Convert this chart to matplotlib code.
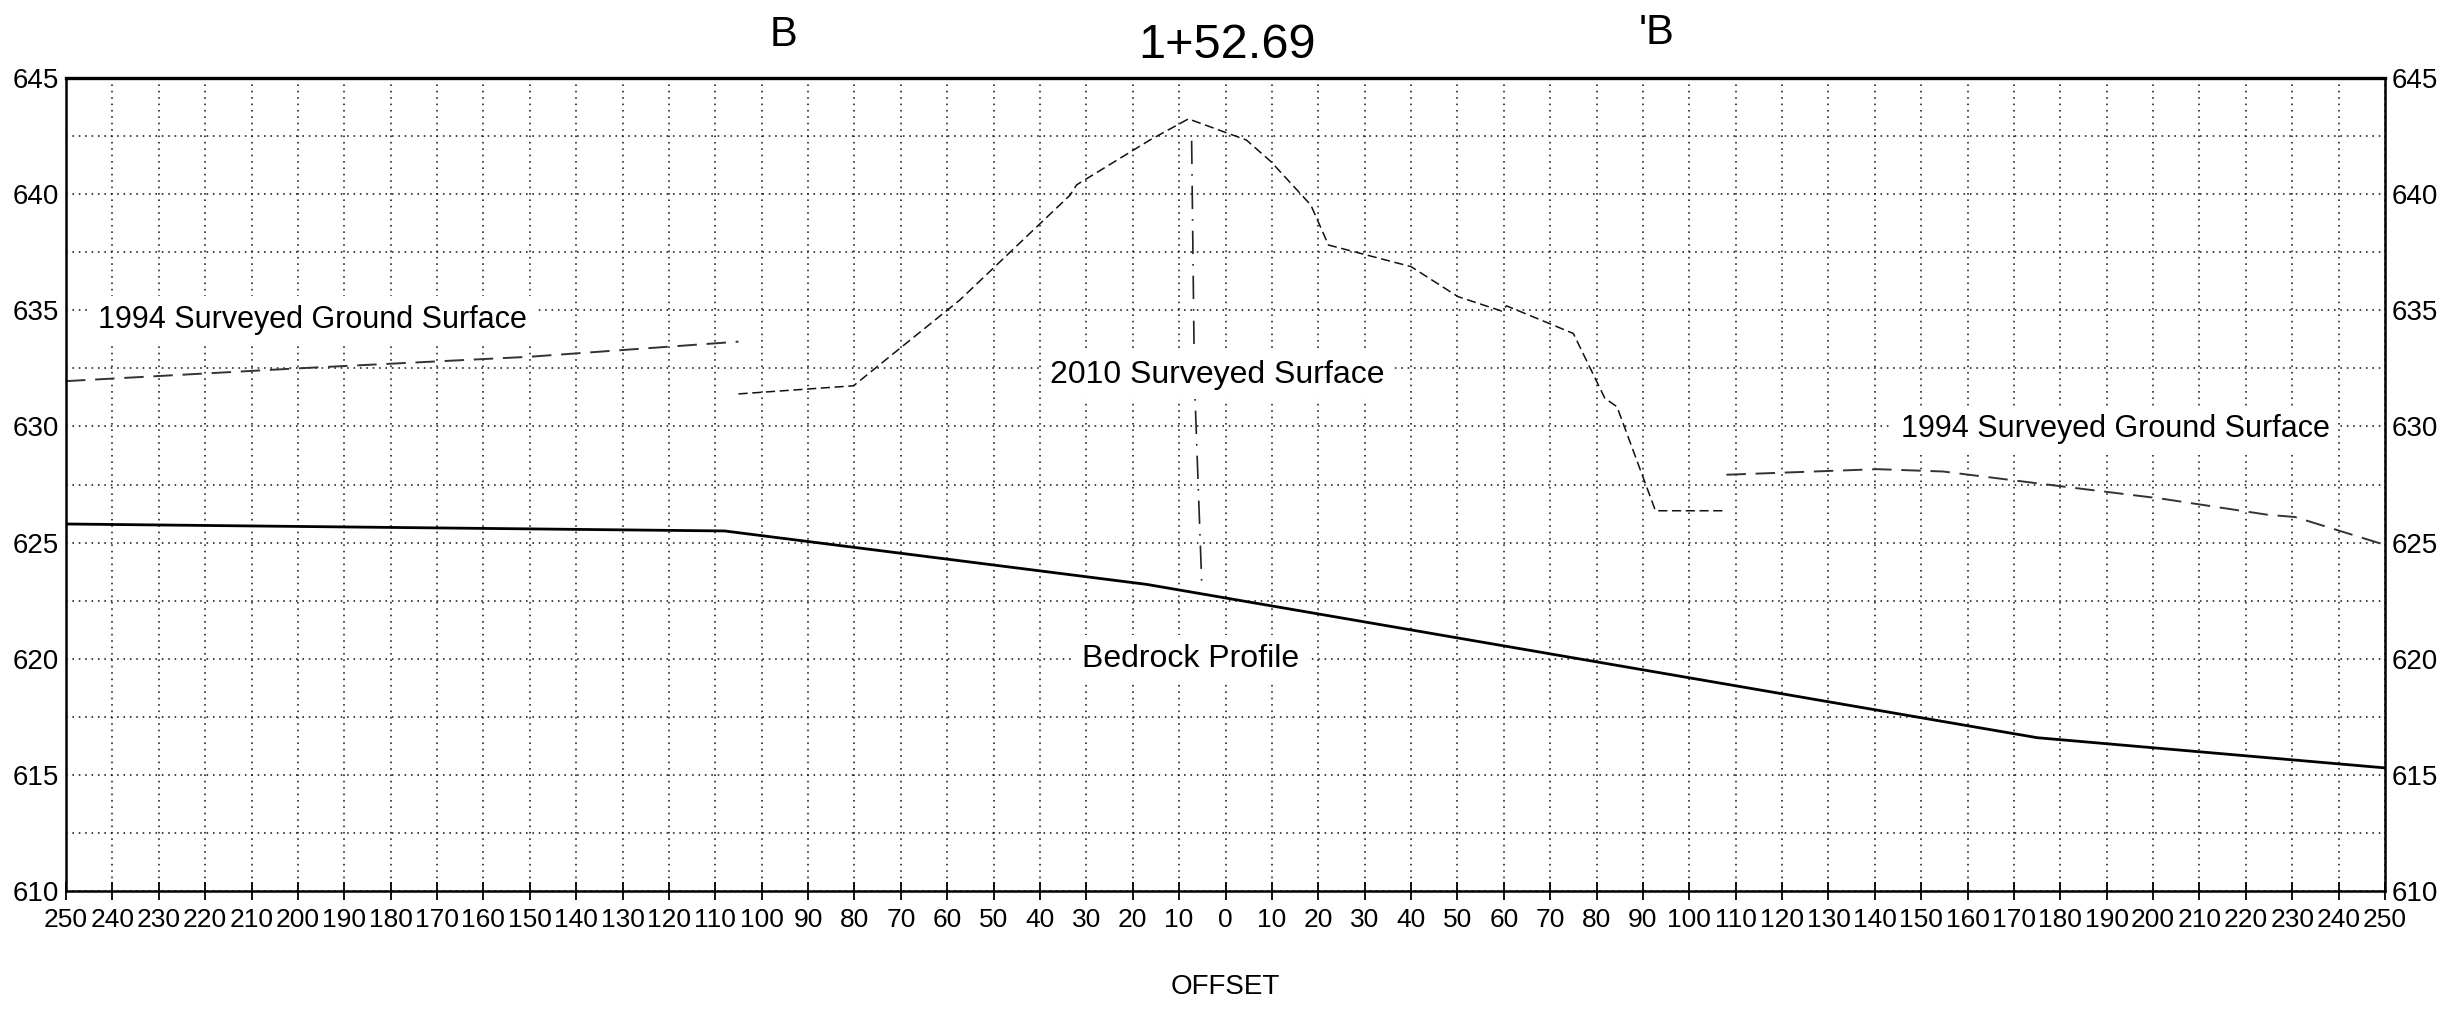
#!/usr/bin/env python3
"""
Cross section B-'B at station 1+52.69: bedrock profile, 1994 and 2010 surveyed surfaces.
"""

import matplotlib
matplotlib.use("Agg")
import matplotlib.pyplot as plt
from matplotlib.ticker import MultipleLocator, FuncFormatter

# 1994 ground surface, left of the embankment (offset ft, elevation ft)
ground94_left_x = [-250, -200, -150, -105]
ground94_left_y = [631.95, 632.5, 633.0, 633.65]

# 1994 ground surface, right side
ground94_right_x = [108, 140.5, 154.7, 179.5, 201.5, 224.6, 230.6, 250]
ground94_right_y = [627.92, 628.16, 628.06, 627.44, 626.9, 626.2, 626.1, 624.9]

# 2010 surveyed surface
survey10_x = [-105.0, -80.2, -57.3, -33.5, -32.1, -16.3, -8.0, 4.5, 9.8, 18.4,
              22.2, 40.0, 50.1, 59.5, 60.6, 69.7, 75.0, 81.8, 84.4, 92.7, 108]
survey10_y = [631.4, 631.75, 635.44, 639.96, 640.4, 642.33, 643.24, 642.33, 641.4, 639.53,
              637.81, 636.88, 635.59, 634.97, 635.19, 634.44, 634.0, 631.21, 630.85, 626.37, 626.37]

# bedrock profile
bedrock_x = [-250, -108, -17, 175, 250]
bedrock_y = [625.8, 625.5, 623.2, 616.6, 615.3]

# hand drawn centre line
center_x = [-7.3, -6.7, -5.1]
center_y = [642.3, 632.0, 623.1]

x_min, x_max = -250, 250
y_min, y_max = 610, 645

regular = ['Liberation Sans', 'DejaVu Sans']

W, H = 2449, 1014
fig = plt.figure(figsize=(W / 100, H / 100), dpi=100)
left, right, top, bottom = 66, 2385, 78, 891
ax = fig.add_axes([left / W, 1 - bottom / H, (right - left) / W, (bottom - top) / H])

# lines
ax.plot(bedrock_x, bedrock_y, color='black', lw=2.0, solid_joinstyle='round')
ax.plot(ground94_left_x, ground94_left_y, color='#333333', lw=1.4, dashes=(10, 5))
ax.plot(ground94_right_x, ground94_right_y, color='#333333', lw=1.4, dashes=(10, 5))
ax.plot(survey10_x, survey10_y, color='#111111', lw=1.1, dashes=(6, 3))
ax.plot(center_x, center_y, color='#222222', lw=1.2, dashes=(14, 6, 1, 6))

# axes
ax.set_xlim(x_min, x_max)
ax.set_ylim(y_min, y_max)
ax.xaxis.set_major_locator(MultipleLocator(10))
ax.xaxis.set_major_formatter(FuncFormatter(lambda v, p: f"{abs(int(round(v)))}"))
ax.yaxis.set_major_locator(MultipleLocator(5))
ax.yaxis.set_minor_locator(MultipleLocator(2.5))

ax.tick_params(axis='x', which='major', direction='inout', length=13, width=1.3,
               pad=6, labelsize=19)
ax.tick_params(axis='y', which='both', length=0, pad=5, labelsize=20,
               left=True, right=True, labelleft=True, labelright=True)
for lab in ax.get_xticklabels() + ax.get_yticklabels():
    lab.set_family(regular)

ax.grid(True, which='major', axis='x', linestyle=(0, (1, 3)), color='#1a1a1a', lw=1.15)
ax.grid(True, which='both', axis='y', linestyle=(0, (1, 3)), color='#1a1a1a', lw=1.15)

for side in ['left', 'right', 'bottom']:
    ax.spines[side].set_linewidth(1.8)
ax.spines['top'].set_linewidth(2.4)

ax.set_xlabel('OFFSET', family=regular, fontsize=20, labelpad=30)

# labels in the plot
box = dict(facecolor='white', edgecolor='none', pad=6)
ax.text(-243, 634.6, '1994 Surveyed Ground Surface', family=regular, fontsize=22,
        ha='left', va='center', bbox=box, zorder=5)
ax.text(145.6, 629.9, '1994 Surveyed Ground Surface', family=regular, fontsize=22,
        ha='left', va='center', bbox=box, zorder=5)
ax.text(-1.8, 632.2, '2010 Surveyed Surface', family=regular, fontsize=23,
        ha='center', va='center', bbox=box, zorder=5)
ax.text(-31, 620.0, 'Bedrock Profile', family=regular, fontsize=23,
        ha='left', va='center', bbox=box, zorder=5)

# section marks above the frame
tr = ax.get_xaxis_transform()
ax.text(-95.4, 1.053, 'B', transform=tr, family=regular, fontsize=30,
        ha='center', va='center')
ax.text(0.3, 1.040, '1+52.69', transform=tr, family=regular, fontsize=35,
        ha='center', va='center')
ax.text(93.0, 1.055, "'B", transform=tr, family=regular, fontsize=30,
        ha='center', va='center')

fig.savefig('out.png', dpi=100, facecolor='white')
